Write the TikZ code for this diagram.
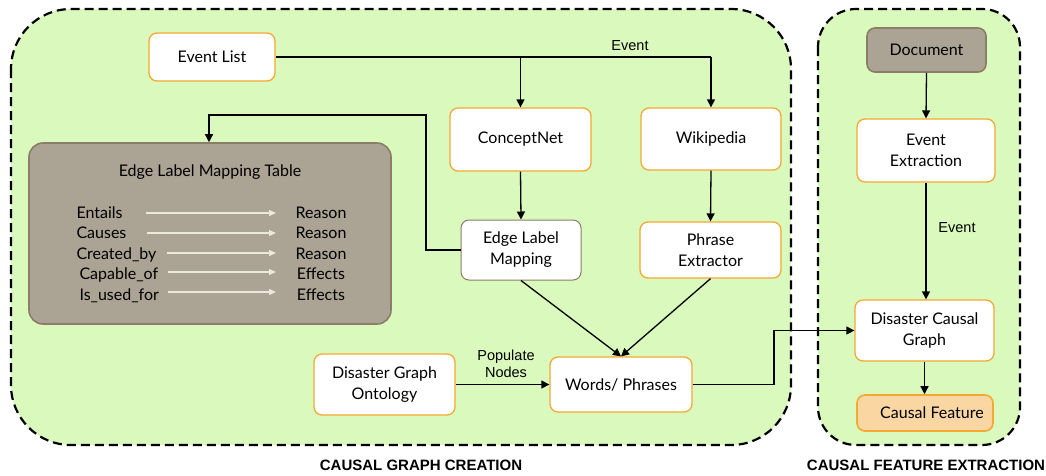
\documentclass[tikz,border=0pt]{standalone}
\usepackage{fontspec}
\setmainfont{Lato}
\newfontfamily\arialfont{Liberation Sans}
\usetikzlibrary{arrows.meta}
\definecolor{regiongreen}{HTML}{DAF9BC}
\definecolor{boxorange}{HTML}{F6A832}
\definecolor{taupe}{HTML}{ABA394}
\definecolor{taupedark}{HTML}{8B7D68}
\definecolor{featfill}{HTML}{F9D6A2}
\definecolor{tablearrow}{HTML}{EDE8DC}
\tikzset{
  region/.style={draw=black, line width=2.2pt, dash pattern=on 9pt off 5pt, fill=regiongreen},
  box/.style={draw=boxorange, line width=1.3pt, fill=white, rounded corners=8pt, align=center, font=\fontsize{16}{21}\selectfont, inner sep=0pt},
  graybox/.style={box, draw=taupedark, line width=1.6pt, fill=taupe},
  conn/.style={draw=black, line width=1.3pt, -{Triangle[length=8pt,width=8pt]}},
  lbl/.style={font=\arialfont\fontsize{14.5}{17}\selectfont, align=center},
  title/.style={font=\arialfont\bfseries\fontsize{15}{17}\selectfont},
  trow/.style={font=\fontsize{16}{19}\selectfont, anchor=base},
  trowl/.style={trow, anchor=base west},
  tarrow/.style={draw=tablearrow, line width=1.3pt, -{Triangle[length=7pt,width=6pt]}}
}
\begin{document}
\begin{tikzpicture}[x=1pt,y=-1pt]
\useasboundingbox (0,0) rectangle (1046,475);
% regions
\draw[region, rounded corners=60pt] (11,9) rectangle (791,445);
\draw[region, rounded corners=38pt] (818,9) rectangle (1020,445);
\node[title] (t1) at (421,465) {CAUSAL GRAPH CREATION};
\node[title] (t2) at (926,465) {CAUSAL FEATURE EXTRACTION};
% nodes
\node[box, minimum width=126pt, minimum height=48pt] (ev) at (212,57) {Event List};
\node[box, minimum width=141pt, minimum height=63pt] (cn) at (520.5,139.5) {ConceptNet};
\node[box, minimum width=140pt, minimum height=62pt] (wk) at (711,139) {Wikipedia};
\node[graybox, rounded corners=14pt, minimum width=362pt, minimum height=181pt] (tab) at (210,233.5) {};
\node[box, draw=taupedark, line width=1pt, minimum width=120pt, minimum height=60pt] (elm) at (521,250) {Edge Label\\Mapping};
\node[box, minimum width=141pt, minimum height=56pt] (pe) at (710.5,250) {Phrase\\Extractor};
\node[box, minimum width=141pt, minimum height=61pt] (dgo) at (384.5,384.5) {Disaster Graph\\Ontology};
\node[box, minimum width=142pt, minimum height=55pt] (wp) at (621,384.5) {Words/ Phrases};
\node[graybox, minimum width=119pt, minimum height=44pt] (doc) at (926.5,50) {Document};
\node[box, minimum width=138pt, minimum height=63pt] (ee) at (926,150.5) {Event\\Extraction};
\node[box, minimum width=139pt, minimum height=61pt] (dcg) at (924.5,330.5) {Disaster Causal\\Graph};
\node[box, fill=featfill, line width=1.6pt, minimum width=136pt, minimum height=36pt] (cf) at (925,413) {\hspace*{14pt}Causal Feature};
% table contents
\node[font=\fontsize{16}{19}\selectfont] (tt) at (210,172) {Edge Label Mapping Table};
\node[trowl] (l1) at (73,218) {Entails};
\node[trowl] (l2) at (73,238.5) {Causes};
\node[trowl] (l3) at (73,259) {Created\_by};
\node[trowl] (l4) at (76,279.5) {Capable\_of};
\node[trowl] (l5) at (76,300) {Is\_used\_for};
\node[trow] (r1) at (321,218) {Reason};
\node[trow] (r2) at (321,238.5) {Reason};
\node[trow] (r3) at (321,259) {Reason};
\node[trow] (r4) at (321,279.5) {Effects};
\node[trow] (r5) at (321,300) {Effects};
\coordinate (a1s) at (146,213); \coordinate (a1e) at (276,213);
\coordinate (a2s) at (147,233); \coordinate (a2e) at (276,233);
\coordinate (a3s) at (167,253); \coordinate (a3e) at (276,253);
\coordinate (a4s) at (168,272); \coordinate (a4e) at (276,272);
\coordinate (a5s) at (168,292); \coordinate (a5e) at (276,292);
\foreach \i in {1,...,5} {\draw[tarrow] (a\i s) -- (a\i e);}
% connectors
\coordinate (j1) at (520.5,57);
\coordinate (j2) at (711,57);
\draw[line width=1.3pt] (ev.east) -- (j2);
\draw[conn] (j1) -- (cn.north);
\draw[conn] (j2) -- (wk.north);
\node[lbl] (evl) at (630,46) {Event};
\draw[conn] (cn.south) -- (elm.north);
\draw[conn] (wk.south) -- (pe.north);
\coordinate (k1) at (426,250);
\coordinate (k2) at (426,115);
\coordinate (k3) at (209,115);
\draw[conn] (elm.west) -- (k1) -- (k2) -- (k3) -- (tab.north -| k3);
\draw[conn] (elm.south) -- (wp.north);
\draw[conn] (pe.south) -- (wp.north);
\draw[conn] (dgo.east) -- (wp.west);
\node[lbl] (pop) at (506,364) {Populate\\Nodes};
\coordinate (m1) at (774,384.5);
\coordinate (m2) at (774,330.5);
\draw[conn] (wp.east) -- (m1) -- (m2) -- (dcg.west);
\draw[conn] (doc.south) -- (ee.north);
\draw[conn] (ee.south) -- (ee.south |- dcg.north);
\node[lbl] (evl2) at (957,228) {Event};
\draw[conn] (dcg.south) -- (dcg.south |- cf.north);
\end{tikzpicture}
\end{document}
